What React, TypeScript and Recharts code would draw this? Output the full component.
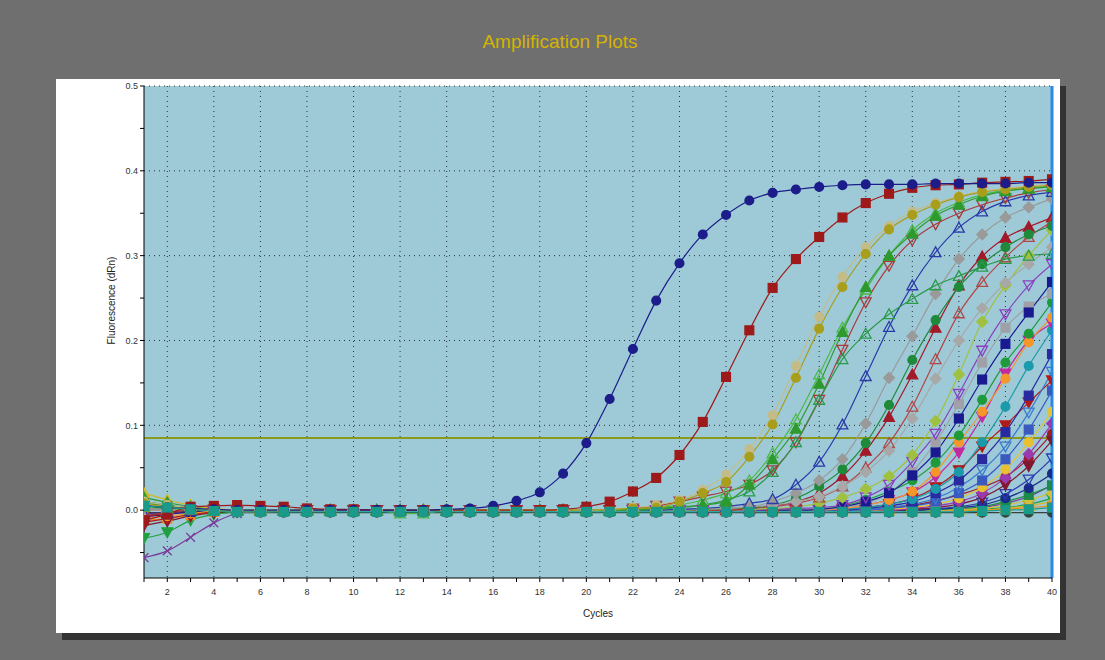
import { LineChart, Line, XAxis, YAxis, CartesianGrid, ReferenceLine } from 'recharts';

// cycle numbers on the x axis
const cycles = [
    1, 2, 3, 4, 5, 6, 7, 8, 9, 10,
    11, 12, 13, 14, 15, 16, 17, 18, 19, 20,
    21, 22, 23, 24, 25, 26, 27, 28, 29, 30,
    31, 32, 33, 34, 35, 36, 37, 38, 39, 40,
];
const xTickLabels = [2, 4, 6, 8, 10, 12, 14, 16, 18, 20, 22, 24, 26, 28, 30, 32, 34, 36, 38, 40];
const yTicks = [-0.05, 0, 0.05, 0.1, 0.15, 0.2, 0.25, 0.3, 0.35, 0.4, 0.45, 0.5];
const gridX = [2, 4, 6, 8, 10, 12, 14, 16, 18, 20, 22, 24, 26, 28, 30, 32, 34, 36, 38];
const gridY = [0.1, 0.2, 0.3, 0.4, 0.5];
const threshold = 0.085;

// dRn per well, cycles 1..40
const navyCircle = [
    0.005, 0.003, 0.002, 0.001, 0, 0, 0, 0, 0, 0,
    0, 0, 0, 0.001, 0.002, 0.005, 0.011, 0.021, 0.043, 0.079,
    0.131, 0.19, 0.247, 0.291, 0.325, 0.348, 0.365, 0.374, 0.378, 0.381,
    0.383, 0.384, 0.384, 0.384, 0.385, 0.385, 0.385, 0.385, 0.386, 0.386,
];
const redSquare = [
    -0.012, -0.005, 0.004, 0.005, 0.006, 0.005, 0.004, 0.002, 0.001, 0.001,
    0, 0, 0, 0, 0, 0, 0, 0, 0.001, 0.004,
    0.01, 0.022, 0.038, 0.065, 0.104, 0.157, 0.212, 0.262, 0.296, 0.322,
    0.345, 0.362, 0.373, 0.38, 0.383, 0.384, 0.386, 0.387, 0.388, 0.39,
];
const oliveCircle = [
    0.008, 0.004, 0.002, 0, -0.002, -0.002, -0.001, 0, 0, 0,
    0, 0, 0, 0, 0, 0, 0, 0, 0, 0,
    0.001, 0.002, 0.003, 0.01, 0.02, 0.033, 0.063, 0.101, 0.156, 0.214,
    0.263, 0.302, 0.331, 0.348, 0.36, 0.369, 0.375, 0.378, 0.381, 0.383,
];
const khakiCircle = [
    0.01, 0.006, 0.003, 0.001, 0, 0, 0, 0, 0, 0,
    0, 0, 0, 0, 0, 0, 0, 0, 0, 0,
    0.001, 0.003, 0.006, 0.012, 0.024, 0.042, 0.072, 0.112, 0.17, 0.228,
    0.275, 0.31, 0.335, 0.352, 0.362, 0.37, 0.376, 0.379, 0.382, 0.384,
];
const greenTriUp = [
    0.015, 0.009, 0.004, 0.001, 0, 0, 0, 0, 0, 0,
    0, 0, 0, 0, 0, 0, 0, 0, 0, 0,
    0, 0.001, 0.002, 0.004, 0.006, 0.01, 0.03, 0.06, 0.096, 0.149,
    0.21, 0.263, 0.3, 0.326, 0.347, 0.36, 0.37, 0.376, 0.379, 0.381,
];
const lightGreenTri = [
    0.004, 0.002, 0.001, 0, 0, 0, 0, 0, 0, 0,
    0, -0.004, -0.004, 0, 0, 0, 0, 0, 0, 0,
    0, 0.001, 0.003, 0.006, 0.012, 0.02, 0.035, 0.067, 0.107, 0.16,
    0.215, 0.26, 0.3, 0.33, 0.35, 0.363, 0.372, 0.377, 0.38, 0.382,
];
const greenTriSlow = [
    0.006, 0.003, 0.001, 0, 0, 0, 0, 0, 0, 0,
    0, 0, 0, 0, 0, 0, 0, 0, 0, 0,
    0, 0, 0.001, 0.003, 0.006, 0.012, 0.022, 0.045, 0.08, 0.13,
    0.178, 0.208, 0.231, 0.249, 0.265, 0.276, 0.287, 0.296, 0.3, 0.302,
];
const brownTriDown = [
    -0.006, -0.003, 0, 0.001, 0, 0, 0, 0, 0, 0,
    0, 0, 0, 0, 0, 0, 0, 0, 0, 0,
    0, 0.002, 0.005, 0.01, 0.016, 0.022, 0.03, 0.047, 0.08, 0.13,
    0.189, 0.245, 0.288, 0.318, 0.337, 0.35, 0.36, 0.368, 0.374, 0.378,
];
const navyTriUp = [
    -0.004, -0.003, -0.001, 0, 0, 0, 0, 0, 0, 0,
    0, 0, 0, 0, 0, 0, 0, 0, 0, 0,
    0, 0, 0, 0.001, 0.002, 0.004, 0.008, 0.013, 0.03, 0.057,
    0.101, 0.158, 0.216, 0.265, 0.304, 0.333, 0.352, 0.364, 0.371, 0.375,
];
const grayDiamond = [
    0.002, 0.001, 0, 0, 0, 0, 0, 0, 0, 0,
    0, 0, 0, 0, 0, 0, 0, 0, 0, 0,
    0, 0, 0, 0.001, 0.002, 0.003, 0.004, 0.01, 0.02, 0.035,
    0.06, 0.102, 0.156, 0.205, 0.255, 0.296, 0.325, 0.345, 0.357, 0.367,
];
const grayDiamond2 = [
    0, 0, 0, 0, 0, 0, 0, 0, 0, 0,
    0, 0, 0, 0, 0, 0, 0, 0, 0, 0,
    0, 0, 0, 0, 0.001, 0.002, 0.004, 0.006, 0.01, 0.016,
    0.028, 0.045, 0.07, 0.108, 0.155, 0.2, 0.238, 0.268, 0.29, 0.31,
];
const greenCircle = [
    0.01, 0.006, 0.003, 0.001, 0, 0, 0, 0, 0, 0,
    0, 0, 0, 0, 0, 0, 0, 0, 0, 0,
    0, 0, 0, 0, 0.001, 0.002, 0.003, 0.006, 0.014, 0.028,
    0.048, 0.079, 0.124, 0.177, 0.224, 0.263, 0.29, 0.31, 0.325, 0.335,
];
const roseTriUp = [
    0, 0, 0, 0, 0, 0, 0, 0, 0, 0,
    0, 0, 0, 0, 0, 0, 0, 0, 0, 0,
    0, 0, 0, 0, 0, 0.001, 0.002, 0.004, 0.008, 0.015,
    0.028, 0.05, 0.079, 0.122, 0.178, 0.232, 0.269, 0.298, 0.322, 0.34,
];
const redTriUp = [
    -0.008, -0.004, -0.001, 0, 0, 0, 0, 0, 0, 0,
    0, 0, 0, 0, 0, 0, 0, 0, 0, 0,
    0, 0, 0, 0, 0, 0, 0.002, 0.005, 0.01, 0.02,
    0.04, 0.07, 0.11, 0.16, 0.215, 0.265, 0.299, 0.321, 0.334, 0.345,
];
const yellowGreenDiamond = [
    0, 0, 0, 0, 0, 0, 0, 0, 0, 0,
    0, 0, 0, 0, 0, 0, 0, 0, 0, 0,
    0, 0, 0, 0, 0, 0, 0.001, 0.002, 0.004, 0.008,
    0.015, 0.025, 0.04, 0.065, 0.105, 0.16, 0.222, 0.265, 0.3, 0.33,
];
const purpleTriDown = [
    0, 0, 0, 0, 0, 0, 0, 0, 0, 0,
    0, 0, 0, 0, 0, 0, 0, 0, 0, 0,
    0, 0, 0, 0, 0, 0, 0, 0.001, 0.002, 0.003,
    0.006, 0.015, 0.03, 0.057, 0.09, 0.137, 0.188, 0.231, 0.265, 0.29,
];
const navySquare = [
    -0.008, -0.005, -0.002, 0, 0, 0, 0, 0, 0, 0,
    0, 0, 0, 0, 0, 0, 0, 0, 0, 0,
    0, 0, 0, 0, 0, 0, 0, 0, 0, 0.001,
    0.004, 0.01, 0.02, 0.041, 0.068, 0.108, 0.154, 0.196, 0.233, 0.269,
];
const graySquare = [
    0, 0, 0, 0, 0, 0, 0, 0, 0, 0,
    0, 0, 0, 0, 0, 0, 0, 0, 0, 0,
    0, 0, 0, 0, 0, 0, 0, 0, 0, 0.001,
    0.003, 0.008, 0.02, 0.045, 0.08, 0.125, 0.174, 0.215, 0.24, 0.255,
];
const greenCircle2 = [
    0.003, 0.001, 0, 0, 0, 0, 0, 0, 0, 0,
    0, 0, 0, 0, 0, 0, 0, 0, 0, 0,
    0, 0, 0, 0, 0, 0, 0, 0, 0, 0.001,
    0.005, 0.012, 0.022, 0.035, 0.056, 0.088, 0.13, 0.174, 0.208, 0.245,
];
const orangeCircle = [
    -0.01, -0.007, -0.004, -0.001, 0, 0, 0, 0, 0, 0,
    0, 0, 0, 0, 0, 0, 0, 0, 0, 0,
    0, 0, 0, 0, 0, 0, 0, 0, 0, 0,
    0.002, 0.006, 0.012, 0.022, 0.045, 0.08, 0.116, 0.155, 0.198, 0.227,
];
const magentaTriDown = [
    0, 0, 0, 0, 0, 0, 0, 0, 0, 0,
    0, 0, 0, 0, 0, 0, 0, 0, 0, 0,
    0, 0, 0, 0, 0, 0, 0, 0, 0, 0,
    0.002, 0.006, 0.012, 0.021, 0.039, 0.068, 0.11, 0.161, 0.2, 0.22,
];
const tealCircle = [
    0.004, 0.002, 0.001, 0, 0, 0, 0, 0, 0, 0,
    0, 0, 0, 0, 0, 0, 0, 0, 0, 0,
    0, 0, 0, 0, 0, 0, 0, 0, 0, 0,
    0.001, 0.003, 0.007, 0.013, 0.025, 0.045, 0.08, 0.122, 0.17, 0.212,
];
const navySquare2 = [
    0, 0, 0, 0, 0, 0, 0, 0, 0, 0,
    0, 0, 0, 0, 0, 0, 0, 0, 0, 0,
    0, 0, 0, 0, 0, 0, 0, 0, 0, 0,
    0, 0.002, 0.005, 0.01, 0.02, 0.035, 0.06, 0.092, 0.135, 0.184,
];
const lightBlueTriDown = [
    0, 0, 0, 0, 0, 0, 0, 0, 0, 0,
    0, 0, 0, 0, 0, 0, 0, 0, 0, 0,
    0, 0, 0, 0, 0, 0, 0, 0, 0, 0,
    0, 0.001, 0.003, 0.007, 0.014, 0.027, 0.047, 0.075, 0.115, 0.163,
];
const redTriDown = [
    -0.014, -0.01, -0.005, -0.002, 0, 0, 0, 0, 0, 0,
    0, 0, 0, 0, 0, 0, 0, 0, 0, 0,
    0, 0, 0, 0, 0, 0, 0, 0, 0, 0,
    0.001, 0.003, 0.007, 0.014, 0.027, 0.047, 0.075, 0.1, 0.127, 0.153,
];
const blueSquare = [
    0, 0, 0, 0, 0, 0, 0, 0, 0, 0,
    0, 0, 0, 0, 0, 0, 0, 0, 0, 0,
    0, 0, 0, 0, 0, 0, 0, 0, 0, 0,
    0, 0, 0.002, 0.005, 0.01, 0.02, 0.035, 0.06, 0.095, 0.141,
];
const yellowCircle = [
    0, 0, 0, 0, 0, 0, 0, 0, 0, 0,
    0, 0, 0, 0, 0, 0, 0, 0, 0, 0,
    0, 0, 0, 0, 0, 0, 0, 0, 0, 0,
    0, 0, 0.001, 0.003, 0.007, 0.014, 0.027, 0.048, 0.08, 0.116,
];
const purpleDiamond = [
    0, 0, 0, 0, 0, 0, 0, 0, 0, 0,
    0, 0, 0, 0, 0, 0, 0, 0, 0, 0,
    0, 0, 0, 0, 0, 0, 0, 0, 0, 0,
    0, 0, 0, 0.002, 0.005, 0.01, 0.02, 0.038, 0.066, 0.102,
];
const maroonTriDown = [
    -0.018, -0.013, -0.007, -0.003, -0.001, 0, 0, 0, 0, 0,
    0, 0, 0, 0, 0, 0, 0, 0, 0, 0,
    0, 0, 0, 0, 0, 0, 0, 0, 0, 0,
    0, 0, 0, 0.001, 0.003, 0.007, 0.015, 0.03, 0.052, 0.082,
];
const darkRedCircle = [
    0, 0, 0, 0, 0, 0, 0, 0, 0, 0,
    0, 0, 0, 0, 0, 0, 0, 0, 0, 0,
    0, 0, 0, 0, 0, 0, 0, 0, 0, 0,
    0, 0.001, 0.003, 0.006, 0.011, 0.018, 0.027, 0.039, 0.061, 0.09,
];
const navyTriDown = [
    0, 0, 0, 0, 0, 0, 0, 0, 0, 0,
    0, 0, 0, 0, 0, 0, 0, 0, 0, 0,
    0, 0, 0, 0, 0, 0, 0, 0, 0, 0,
    0, 0, 0, 0.001, 0.002, 0.004, 0.009, 0.019, 0.036, 0.061,
];
const navyCircle2 = [
    -0.006, -0.004, -0.002, 0, 0, 0, 0, 0, 0, 0,
    0, 0, 0, 0, 0, 0, 0, 0, 0, 0,
    0, 0, 0, 0, 0, 0, 0, 0, 0, 0,
    0, 0, 0, 0, 0.001, 0.003, 0.006, 0.014, 0.026, 0.043,
];
const greenSquare = [
    0.008, 0.005, 0.002, 0, 0, 0, 0, 0, 0, 0,
    0, 0, 0, 0, 0, 0, 0, 0, 0, 0,
    0, 0, 0, 0, 0, 0, 0, 0, 0, 0,
    0, 0, 0, 0, 0.001, 0.002, 0.004, 0.01, 0.018, 0.029,
];
const yellowDiamond = [
    0, 0, 0, 0, 0, 0, 0, 0, 0, 0,
    0, 0, 0, 0, 0, 0, 0, 0, 0, 0,
    0, 0, 0, 0, 0, 0, 0, 0, 0, 0,
    0, 0, 0, 0, 0, 0.001, 0.002, 0.006, 0.012, 0.02,
];
const purpleCross = [
    -0.056, -0.048, -0.032, -0.015, -0.004, -0.001, 0, 0, 0, 0,
    0, 0, 0, 0, 0, 0, 0, 0, 0, 0,
    0, 0, 0, 0, 0, 0, 0, 0, 0, 0,
    0, 0, 0, 0, 0, 0.001, 0.003, 0.008, 0.016, 0.03,
];
const greenTriDown = [
    -0.033, -0.026, -0.012, -0.005, -0.002, -0.001, 0, 0, 0, 0,
    0, 0, 0, 0, 0, 0, 0, 0, 0, 0,
    0, 0, 0, 0, 0, 0, 0, 0, 0, 0,
    0, 0, 0, 0, 0, 0, 0.001, 0.003, 0.007, 0.014,
];
const yellowTriUp = [
    0.02, 0.012, 0.006, 0.002, 0, 0, 0, 0, 0, 0,
    0, 0, 0, 0, 0, 0, 0, 0, 0, 0,
    0, 0, 0, 0, 0, 0, 0, 0, 0, 0,
    0, 0, 0, 0, 0, 0, 0, 0.002, 0.005, 0.01,
];
const orangeSquare = [
    -0.012, -0.01, -0.006, -0.002, 0, 0, 0, 0, 0, 0,
    0, 0, 0, 0, 0, 0, 0, 0, 0, 0,
    0, 0, 0, 0, 0, 0, 0, 0, 0, 0,
    0, 0, 0, 0, 0, 0, 0, 0.001, 0.003, 0.005,
];
const darkFlat = [
    -0.003, -0.003, -0.003, -0.003, -0.003, -0.003, -0.003, -0.003, -0.003, -0.003,
    -0.003, -0.003, -0.003, -0.003, -0.003, -0.003, -0.003, -0.003, -0.003, -0.003,
    -0.003, -0.003, -0.003, -0.003, -0.003, -0.003, -0.003, -0.003, -0.003, -0.003,
    -0.003, -0.003, -0.003, -0.003, -0.003, -0.003, -0.003, -0.003, -0.003, -0.003,
];
const tealSquare = [
    0.005, 0.003, 0.001, -0.001, -0.002, -0.002, -0.002, -0.002, -0.002, -0.002,
    -0.002, -0.002, -0.002, -0.002, -0.002, -0.002, -0.002, -0.002, -0.002, -0.002,
    -0.002, -0.002, -0.002, -0.002, -0.002, -0.002, -0.002, -0.002, -0.002, -0.002,
    -0.002, -0.002, -0.002, -0.002, -0.002, -0.002, -0.001, 0, 0.001, 0.003,
];

type Shape = 'circle' | 'square' | 'triUp' | 'triDown' | 'diamond' | 'cross';

const series: { key: string; values: number[]; color: string; shape: Shape; filled: boolean }[] = [
    { key: 'darkFlat', values: darkFlat, color: '#35423a', shape: 'circle', filled: true },
    { key: 'purpleCross', values: purpleCross, color: '#7a3a9a', shape: 'cross', filled: false },
    { key: 'greenTriDown', values: greenTriDown, color: '#20a040', shape: 'triDown', filled: true },
    { key: 'yellowTriUp', values: yellowTriUp, color: '#d4b820', shape: 'triUp', filled: true },
    { key: 'orangeSquare', values: orangeSquare, color: '#f08a20', shape: 'square', filled: true },
    { key: 'yellowDiamond', values: yellowDiamond, color: '#d0c040', shape: 'diamond', filled: true },
    { key: 'greenSquare', values: greenSquare, color: '#1e8a4a', shape: 'square', filled: true },
    { key: 'navyCircle2', values: navyCircle2, color: '#1a2a8a', shape: 'circle', filled: true },
    { key: 'navyTriDown', values: navyTriDown, color: '#2a3ab0', shape: 'triDown', filled: false },
    { key: 'darkRedCircle', values: darkRedCircle, color: '#a01a2a', shape: 'circle', filled: true },
    { key: 'maroonTriDown', values: maroonTriDown, color: '#801830', shape: 'triDown', filled: true },
    { key: 'purpleDiamond', values: purpleDiamond, color: '#9a3ab0', shape: 'diamond', filled: true },
    { key: 'yellowCircle', values: yellowCircle, color: '#e8c030', shape: 'circle', filled: true },
    { key: 'blueSquare', values: blueSquare, color: '#3a5ac0', shape: 'square', filled: true },
    { key: 'redTriDown', values: redTriDown, color: '#b01a1a', shape: 'triDown', filled: true },
    { key: 'lightBlueTriDown', values: lightBlueTriDown, color: '#3a7ad0', shape: 'triDown', filled: false },
    { key: 'navySquare2', values: navySquare2, color: '#2a2aa0', shape: 'square', filled: true },
    { key: 'tealCircle', values: tealCircle, color: '#1a9aaa', shape: 'circle', filled: true },
    { key: 'magentaTriDown', values: magentaTriDown, color: '#c02aa0', shape: 'triDown', filled: true },
    { key: 'orangeCircle', values: orangeCircle, color: '#f5962a', shape: 'circle', filled: true },
    { key: 'greenCircle2', values: greenCircle2, color: '#1e9a3a', shape: 'circle', filled: true },
    { key: 'graySquare', values: graySquare, color: '#a0a0a8', shape: 'square', filled: true },
    { key: 'navySquare', values: navySquare, color: '#1a1a90', shape: 'square', filled: true },
    { key: 'purpleTriDown', values: purpleTriDown, color: '#8a40c0', shape: 'triDown', filled: false },
    { key: 'yellowGreenDiamond', values: yellowGreenDiamond, color: '#a0c040', shape: 'diamond', filled: true },
    { key: 'redTriUp', values: redTriUp, color: '#a01a2a', shape: 'triUp', filled: true },
    { key: 'roseTriUp', values: roseTriUp, color: '#b04848', shape: 'triUp', filled: false },
    { key: 'greenCircle', values: greenCircle, color: '#1e8a3a', shape: 'circle', filled: true },
    { key: 'grayDiamond2', values: grayDiamond2, color: '#a8a8a8', shape: 'diamond', filled: true },
    { key: 'grayDiamond', values: grayDiamond, color: '#9a9a9a', shape: 'diamond', filled: true },
    { key: 'navyTriUp', values: navyTriUp, color: '#2a3aa8', shape: 'triUp', filled: false },
    { key: 'brownTriDown', values: brownTriDown, color: '#a83a3a', shape: 'triDown', filled: false },
    { key: 'greenTriSlow', values: greenTriSlow, color: '#2a9a4a', shape: 'triUp', filled: false },
    { key: 'lightGreenTri', values: lightGreenTri, color: '#4cb84a', shape: 'triUp', filled: false },
    { key: 'greenTriUp', values: greenTriUp, color: '#2e9a2e', shape: 'triUp', filled: true },
    { key: 'khakiCircle', values: khakiCircle, color: '#c4bc88', shape: 'circle', filled: true },
    { key: 'oliveCircle', values: oliveCircle, color: '#a89e1c', shape: 'circle', filled: true },
    { key: 'redSquare', values: redSquare, color: '#9e1a1a', shape: 'square', filled: true },
    { key: 'navyCircle', values: navyCircle, color: '#1c1c8a', shape: 'circle', filled: true },
    { key: 'tealSquare', values: tealSquare, color: '#1a9a8a', shape: 'square', filled: true },
];

const data = cycles.map((c, i) => {
    const row: Record<string, number> = { cycle: c };
    series.forEach((s) => {
        row[s.key] = s.values[i];
    });
    return row;
});

function Marker({ cx, cy, shape, color, filled }: { cx?: number; cy?: number; shape: Shape; color: string; filled: boolean }) {
    if (cx == null || cy == null) return null;
    const s = 4.4;
    const paint = { stroke: color, strokeWidth: 1.3, fill: filled ? color : 'none' };
    switch (shape) {
        case 'circle':
            return <circle cx={cx} cy={cy} r={s} {...paint} />;
        case 'square':
            return <rect x={cx - s} y={cy - s} width={s * 2} height={s * 2} {...paint} />;
        case 'triUp':
            return <polygon points={`${cx},${cy - s - 1} ${cx + s + 1},${cy + s} ${cx - s - 1},${cy + s}`} {...paint} />;
        case 'triDown':
            return <polygon points={`${cx},${cy + s + 1} ${cx + s + 1},${cy - s} ${cx - s - 1},${cy - s}`} {...paint} />;
        case 'diamond':
            return <polygon points={`${cx},${cy - s - 1} ${cx + s + 1},${cy} ${cx},${cy + s + 1} ${cx - s - 1},${cy}`} {...paint} />;
        default:
            return (
                <path
                    d={`M${cx - s},${cy - s}L${cx + s},${cy + s}M${cx - s},${cy + s}L${cx + s},${cy - s}`}
                    stroke={color}
                    strokeWidth={1.3}
                    fill="none"
                />
            );
    }
}

const fmtX = (v: number) => (xTickLabels.includes(v) ? String(v) : '');
const fmtY = (v: number) => (Math.abs(v * 10 - Math.round(v * 10)) < 1e-6 ? v.toFixed(1) : '');

export default function App() {
    return (
        <div
            style={{
                position: 'absolute',
                left: 0,
                top: 0,
                width: 1105,
                height: 660,
                background: '#6f6f6f',
                fontFamily: '"Liberation Sans", Arial, sans-serif',
                overflow: 'hidden',
            }}
        >
            <div
                style={{
                    position: 'absolute',
                    left: 0,
                    width: 1120,
                    top: 31,
                    textAlign: 'center',
                    color: '#d4b400',
                    fontSize: 19,
                }}
            >
                Amplification Plots
            </div>
            <div
                style={{
                    position: 'absolute',
                    left: 56,
                    top: 79,
                    width: 1004,
                    height: 554,
                    background: '#ffffff',
                    boxShadow: '6px 7px 0 #333333',
                }}
            >
                <LineChart width={1004} height={554} data={data} margin={{ top: 7, right: 8, bottom: 10, left: 40 }}>
                    <CartesianGrid
                        fill="#9ecad8"
                        fillOpacity={1}
                        stroke="#24343c"
                        strokeDasharray="1 4"
                        horizontalValues={gridY}
                        verticalValues={gridX}
                    />
                    <XAxis
                        dataKey="cycle"
                        type="number"
                        domain={[1, 40]}
                        ticks={cycles}
                        interval={0}
                        tickFormatter={fmtX}
                        tick={{ fontSize: 9, fill: '#333' }}
                        tickSize={4}
                        tickMargin={7}
                        stroke="#000"
                        height={45}
                        allowDataOverflow
                        label={{ value: 'Cycles', position: 'insideBottom', offset: 6, fontSize: 10, fill: '#222' }}
                    />
                    <YAxis
                        type="number"
                        domain={[-0.08, 0.5]}
                        ticks={yTicks}
                        interval={0}
                        tickFormatter={fmtY}
                        tick={{ fontSize: 9, fill: '#333' }}
                        tickSize={4}
                        tickMargin={2}
                        stroke="#000"
                        width={48}
                        allowDataOverflow
                    />
                    <ReferenceLine y={threshold} stroke="#8c9a1c" strokeWidth={2} />
                    {series.map((s) => (
                        <Line
                            key={s.key}
                            dataKey={s.key}
                            stroke={s.color}
                            strokeWidth={1.2}
                            type="monotone"
                            isAnimationActive={false}
                            activeDot={false}
                            dot={(p: any) => (
                                <Marker
                                    key={`${s.key}-${p.index}`}
                                    cx={p.cx}
                                    cy={p.cy}
                                    shape={s.shape}
                                    color={s.color}
                                    filled={s.filled}
                                />
                            )}
                        />
                    ))}
                    <ReferenceLine x={40} stroke="#2a8ae0" strokeWidth={3} />
                </LineChart>
                <div
                    style={{
                        position: 'absolute',
                        left: 55,
                        top: 223,
                        width: 0,
                        height: 0,
                    }}
                >
                    <div
                        style={{
                            position: 'absolute',
                            left: -60,
                            top: -7,
                            width: 120,
                            textAlign: 'center',
                            fontSize: 10,
                            color: '#222',
                            transform: 'rotate(-90deg)',
                            whiteSpace: 'nowrap',
                        }}
                    >
                        Fluorescence (dRn)
                    </div>
                </div>
            </div>
        </div>
    );
}
